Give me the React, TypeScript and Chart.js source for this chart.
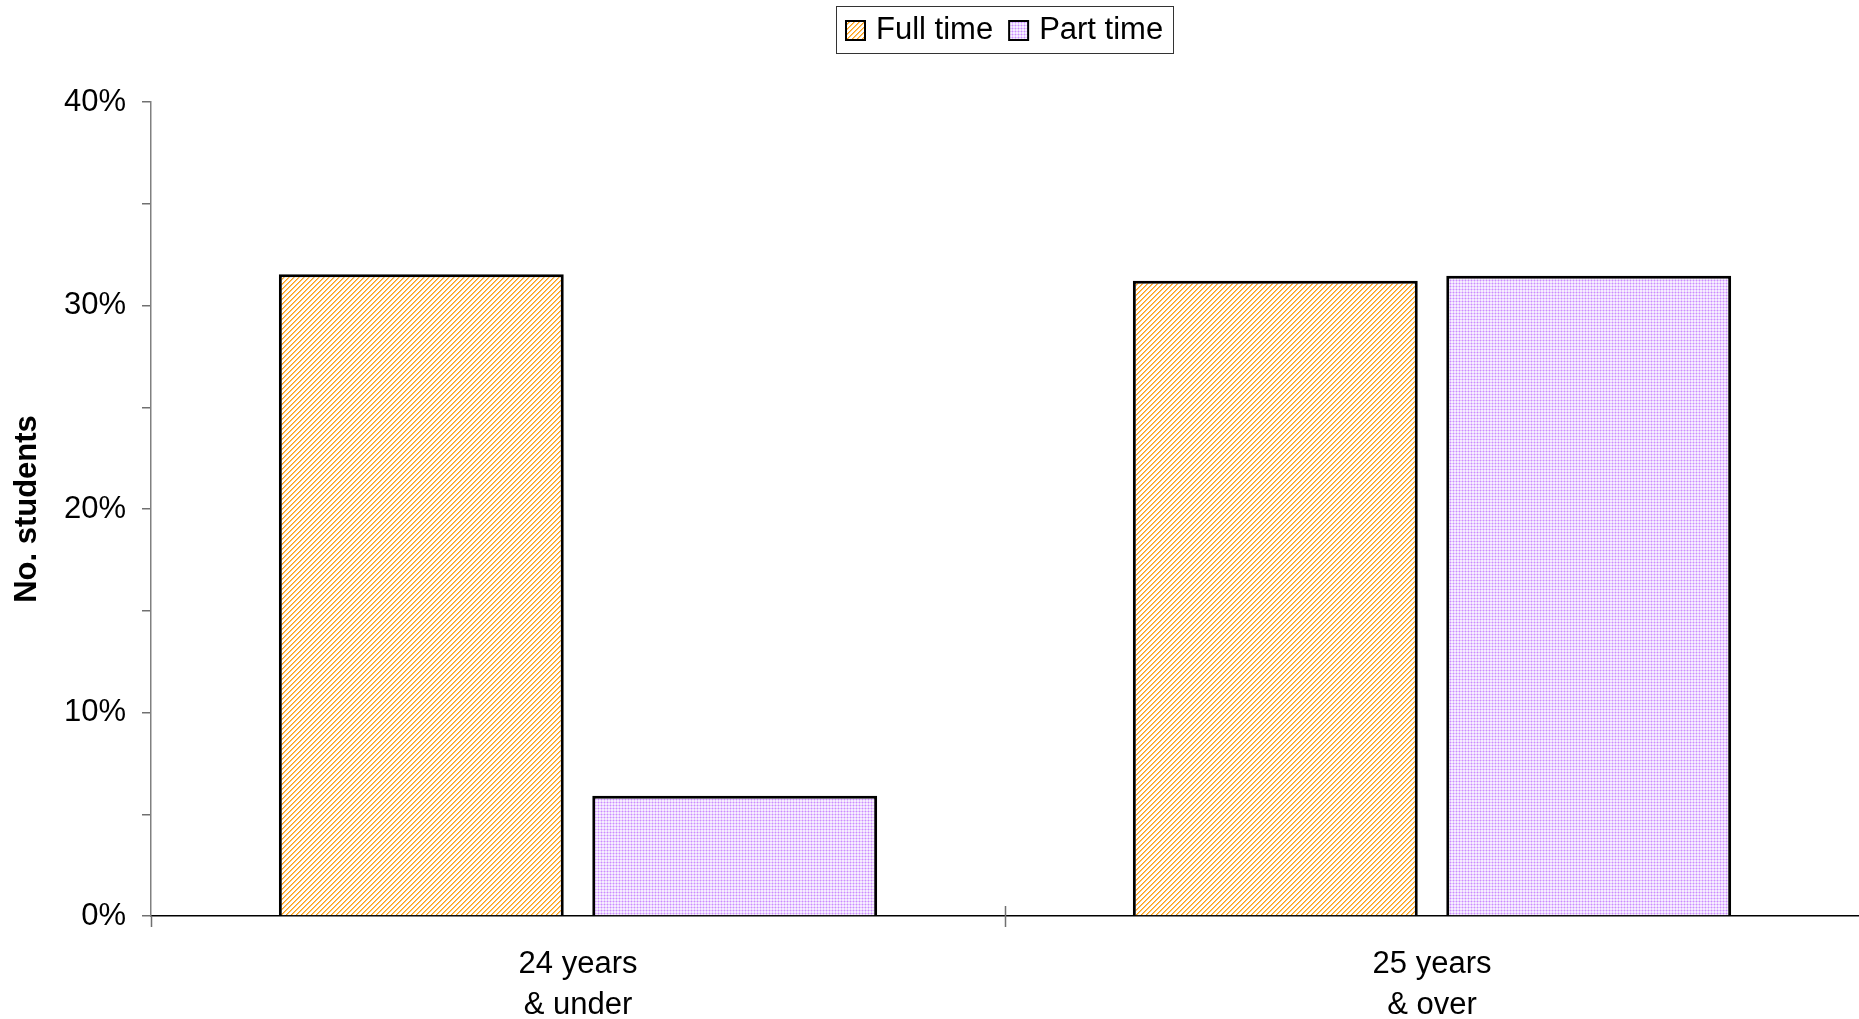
import React, { useEffect, useRef } from "react";
import { Chart, registerables } from "chart.js";

Chart.register(...registerables);

const categories = [["24 years", "& under"], ["25 years", "& over"]];
const seriesNames = ["Full time", "Part time"];
const fullTime = [31.53, 31.22];
const partTime = [5.91, 31.46];
const yMin = 0;
const yMax = 40;
const yStep = 5;
const yLabelStep = 10;
const yTitle = "No. students";

const FONT = "'Liberation Sans', Arial, sans-serif";

function makeHatch(): CanvasPattern | string {
  const c = document.createElement("canvas");
  const n = 5;
  c.width = n;
  c.height = n;
  const g = c.getContext("2d");
  if (!g) return "#FFB040";
  g.fillStyle = "#ffffff";
  g.fillRect(0, 0, n, n);
  for (let x = 0; x < n; x++) {
    for (let y = 0; y < n; y++) {
      const k = (x + y) % n;
      if (k === 0) {
        g.fillStyle = "#FF9E14";
        g.fillRect(x, y, 1, 1);
      } else if (k === 1) {
        g.fillStyle = "#FFC870";
        g.fillRect(x, y, 1, 1);
      }
    }
  }
  return g.createPattern(c, "repeat") || "#FFB040";
}

function makeDots(): CanvasPattern | string {
  const c = document.createElement("canvas");
  const n = 3;
  c.width = n;
  c.height = n;
  const g = c.getContext("2d");
  if (!g) return "#E6CCFF";
  g.fillStyle = "#F6EEFF";
  g.fillRect(0, 0, n, n);
  g.fillStyle = "#E4C6FF";
  g.fillRect(0, 1, 3, 1);
  g.fillRect(1, 0, 1, 3);
  g.fillStyle = "#CC8CFF";
  g.fillRect(1, 1, 1, 1);
  return g.createPattern(c, "repeat") || "#E6CCFF";
}

const legendPlugin = {
  id: "boxLegend",
  afterDraw(chart: any) {
    const ctx = chart.ctx as CanvasRenderingContext2D;
    ctx.save();
    ctx.font = `31px ${FONT}`;
    const sw = 19, gap = 11, itemGap = 16, pad = 10;
    const dsets = chart.data.datasets;
    const widths = dsets.map((d: any) => ctx.measureText(d.label).width);
    let total = pad * 2;
    widths.forEach((w: number, i: number) => {
      total += sw + gap + w + (i > 0 ? itemGap : 0);
    });
    const cx = (chart.chartArea.left + chart.chartArea.right) / 2;
    const top = 6, h = 47;
    const x0 = Math.round(cx - total / 2);
    ctx.fillStyle = "#ffffff";
    ctx.fillRect(x0, top, total, h);
    ctx.strokeStyle = "#333333";
    ctx.lineWidth = 1;
    ctx.strokeRect(x0 + 0.5, top + 0.5, Math.round(total), h);
    let ix = x0 + pad;
    const sy = 21;
    dsets.forEach((d: any, i: number) => {
      ctx.fillStyle = d.backgroundColor;
      ctx.fillRect(ix, sy, sw, sw);
      ctx.lineWidth = 2;
      ctx.strokeStyle = "#000000";
      ctx.strokeRect(ix, sy, sw, sw);
      ctx.fillStyle = "#000000";
      ctx.textBaseline = "middle";
      ctx.textAlign = "left";
      ctx.fillText(d.label, ix + sw + gap, sy + sw / 2);
      ix += sw + gap + widths[i] + itemGap;
    });
    ctx.restore();
  },
};

const axisTicksPlugin = {
  id: "axisTicks",
  afterDraw(chart: any) {
    const ctx = chart.ctx as CanvasRenderingContext2D;
    const xs = chart.scales.x;
    const { bottom, left } = chart.chartArea;
    const n = chart.data.labels.length;
    const w = (xs.right - xs.left) / n;
    ctx.save();
    ctx.strokeStyle = "#707070";
    ctx.lineWidth = 1.5;
    ctx.beginPath();
    ctx.moveTo(left + 0.5, bottom);
    ctx.lineTo(left + 0.5, bottom + 11);
    for (let k = 1; k < n; k++) {
      const px = Math.round(xs.left + k * w) + 0.5;
      ctx.moveTo(px, bottom - 10);
      ctx.lineTo(px, bottom + 11);
    }
    ctx.stroke();
    ctx.restore();
  },
};

export default function App() {
  const ref = useRef<HTMLCanvasElement | null>(null);
  useEffect(() => {
    if (!ref.current) return;
    const hatch = makeHatch();
    const dots = makeDots();
    const chart = new Chart(ref.current, {
      type: "bar",
      data: {
        labels: categories,
        datasets: [
          {
            label: seriesNames[0],
            data: fullTime,
            backgroundColor: hatch as any,
            borderColor: "#000000",
            borderWidth: 3,
          },
          {
            label: seriesNames[1],
            data: partTime,
            backgroundColor: dots as any,
            borderColor: "#000000",
            borderWidth: 3,
          },
        ],
      },
      options: {
        responsive: false,
        animation: false,
        devicePixelRatio: 1,
        categoryPercentage: 0.734,
        barPercentage: 0.909,
        layout: { padding: { top: 102, left: 0, right: 0, bottom: 0 } },
        font: { family: FONT },
        plugins: {
          legend: { display: false },
          tooltip: { enabled: false },
          title: { display: false },
        },
        scales: {
          x: {
            grid: { display: false, drawTicks: false },
            border: { display: true, color: "#000000", width: 1.5 },
            ticks: {
              color: "#000000",
              font: { size: 31, family: FONT, lineHeight: 1.32 },
              padding: 28,
              maxRotation: 0,
              autoSkip: false,
            },
            afterFit(scale: any) {
              scale.height = 103;
            },
          },
          y: {
            min: yMin,
            max: yMax,
            grid: {
              drawOnChartArea: false,
              drawTicks: true,
              tickLength: 9,
              color: "#707070",
              lineWidth: 1.5,
            },
            border: { display: true, color: "#808080", width: 1.5 },
            ticks: {
              stepSize: yStep,
              color: "#000000",
              padding: 16,
              font: { size: 31, family: FONT },
              callback: (v: any) => (Number(v) % yLabelStep === 0 ? `${v}%` : ""),
            },
            title: {
              display: true,
              text: yTitle,
              color: "#000000",
              font: { size: 31, family: FONT, weight: "bold" },
              padding: { top: 9, bottom: 0 },
            },
            afterFit(scale: any) {
              scale.width = 151;
            },
          },
        },
      },
      plugins: [legendPlugin, axisTicksPlugin],
    } as any);
    return () => chart.destroy();
  }, []);
  return (
    <div style={{ position: "fixed", left: 0, top: 0, width: 1859, height: 1019, background: "#ffffff" }}>
      <canvas ref={ref} width={1859} height={1019} style={{ display: "block", width: 1859, height: 1019 }} />
    </div>
  );
}
